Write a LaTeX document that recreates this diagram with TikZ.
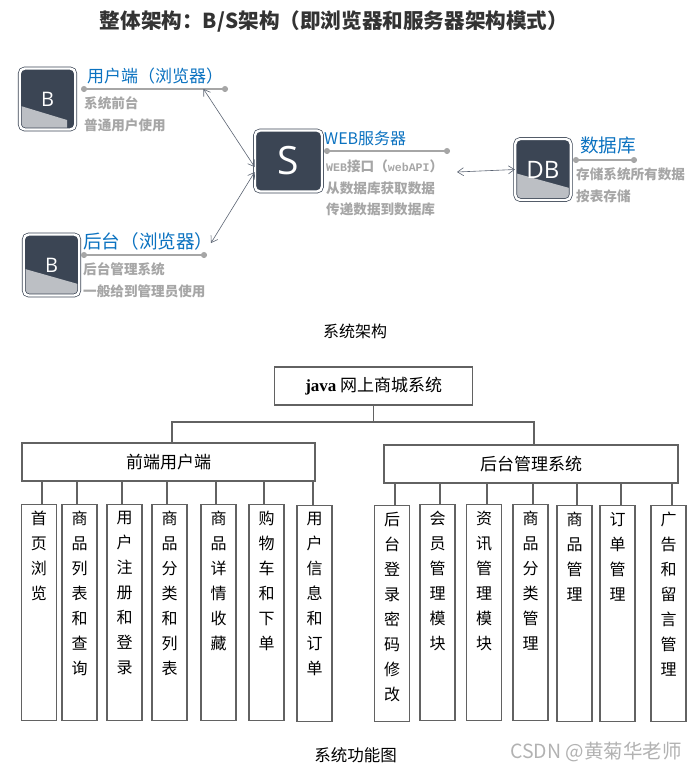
\documentclass[tikz,border=0pt]{standalone}
\usepackage{fontspec}
\usetikzlibrary{arrows.meta}
\setmainfont{Noto Sans CJK SC}
\newfontfamily\iconfont{Open Sans}
\newfontfamily\javafont{Liberation Serif}
\newfontfamily\webfont{Liberation Mono}
\XeTeXlinebreaklocale "zh"
\XeTeXlinebreakskip=0pt plus 1pt
\definecolor{icondark}{HTML}{3B4554}
\definecolor{iconlow}{HTML}{BCBFC4}
\definecolor{headblue}{HTML}{0B72C0}
\definecolor{subgray}{HTML}{A6A6A6}
\definecolor{linkgray}{HTML}{5A6372}
\definecolor{boxline}{HTML}{626262}
\newcommand{\coltext}[1]{\parbox[c][216pt][t]{17pt}{\centering\baselineskip=25pt\vspace*{7pt}#1}}
\newcommand{\iconlowpart}[3]{\fill[iconlow, sharp corners]
    ([xshift=-30pt,yshift=-#1pt]path picture bounding box.center) --
    ([xshift=#2pt,yshift=-#3pt]path picture bounding box.center) --
    ([xshift=#2pt,yshift=-34pt]path picture bounding box.center) --
    ([xshift=-30pt,yshift=-34pt]path picture bounding box.center) -- cycle;}
\tikzset{
    icon/.style={draw=icondark, double=white, double distance=2.4pt, line width=.7pt, fill=icondark,
        rounded corners=5pt, text=white, inner sep=0pt, minimum width=55.5pt, minimum height=61pt},
    head/.style={anchor=west, inner sep=0pt, text=headblue},
    sub/.style={anchor=west, inner sep=0pt, text=subgray, font=\fontsize{13.6pt}{16pt}\bfseries},
    headrule/.style={draw=subgray, line width=1.5pt, {Circle[length=6pt]}-{Circle[length=6pt]}},
    link/.style={draw=linkgray, line width=.6pt, {Straight Barb[length=6pt,width=8pt]}-{Straight Barb[length=6pt,width=8pt]}},
    title/.style={inner sep=0pt, text=black, font=\fontsize{16pt}{18pt}\selectfont},
    topbox/.style={draw=boxline, line width=1.1pt, inner sep=0pt, font=\fontsize{17pt}{20pt}\selectfont},
    colbox/.style={draw=boxline, line width=1.1pt, anchor=north, inner xsep=9pt, inner ysep=0pt,
        font=\fontsize{16pt}{25pt}\selectfont},
    conn/.style={draw=boxline, line width=1.2pt}
}
\begin{document}
\begin{tikzpicture}[x=1pt, y=-1pt]
    \useasboundingbox (0,0) rectangle (697,772);

    % upper picture
    \node[inner sep=0pt, text=black!80, font=\fontsize{20.6pt}{22pt}\bfseries] (main) at (334,21) {整体架构：B/S架构（即浏览器和服务器架构模式）};

    \node[icon, path picture={\iconlowpart{6}{19.5}{21}}, font=\iconfont\fontsize{20pt}{22pt}\selectfont] (user) at (47.5,99) {B};
    \node[icon, path picture={\iconlowpart{3}{30}{20}}, font=\iconfont\fontsize{20pt}{22pt}\selectfont] (admin) at (51.5,265) {B};
    \node[icon, minimum width=67pt, font=\iconfont\fontsize{39pt}{42pt}\selectfont] (server) at (288.5,161) {\raisebox{-3pt}{S}};
    \node[icon, path picture={\iconlowpart{3}{30}{19.5}}, font=\iconfont\fontsize{24pt}{26pt}\selectfont] (db) at (543,169.5) {DB};

    \node[head, font=\fontsize{17pt}{18pt}\selectfont] (userhead) at (87,76) {用户端（浏览器）};
    \coordinate (userl) at (81,89);
    \coordinate (userr) at (228,89);
    \draw[headrule] (userl) -- (userr);
    \node[sub] (usera) at (84,103) {系统前台};
    \node[sub] (userb) at (84,125) {普通用户使用};

    \node[head, font=\fontsize{18.6pt}{20pt}\selectfont] (adminhead) at (83,241) {后台（浏览器）};
    \coordinate (adminl) at (81,255);
    \coordinate (adminr) at (207,255);
    \draw[headrule] (adminl) -- (adminr);
    \node[sub] (admina) at (83,269) {后台管理系统};
    \node[sub] (adminb) at (83,291) {一般给到管理员使用};

    \node[head, font=\fontsize{16pt}{18pt}\selectfont] (serverhead) at (324,138) {WEB服务器};
    \coordinate (serverl) at (324,151);
    \coordinate (serverr) at (450,151);
    \draw[headrule] (serverl) -- (serverr);
    \node[sub] (servera) at (326,166) {{\webfont\fontsize{11.6pt}{16pt}\bfseries WEB}接口（{\webfont\fontsize{11.6pt}{16pt}\bfseries webAPI}）};
    \node[sub] (serverb) at (326,188) {从数据库获取数据};
    \node[sub] (serverc) at (326,209) {传递数据到数据库};

    \node[head, font=\fontsize{18.6pt}{20pt}\selectfont] (dbhead) at (580,145) {数据库};
    \coordinate (dbl) at (573,160);
    \coordinate (dbr) at (637,160);
    \draw[headrule] (dbl) -- (dbr);
    \node[sub] (dba) at (576,174) {存储系统所有数据};
    \node[sub] (dbb) at (576,196) {按表存储};

    \coordinate (userend) at (203.5,89);
    \coordinate (adminend) at (211,243);
    \coordinate (dbend) at (457,172);
    \draw[link] (userend) -- ([yshift=-6pt]server.west);
    \draw[link] (adminend) -- ([yshift=-11pt]server.west);
    \draw[link] (dbend) -- (db.west);

    \node[title] (cap1) at (355,331) {系统架构};

    % lower picture
    \node[topbox, minimum width=198pt, minimum height=38pt] (root) at (373.75,386) {{\javafont\bfseries java} 网上商城系统};
    \node[topbox, minimum width=293pt, minimum height=38pt] (front) at (168.5,462) {前端用户端};
    \node[topbox, minimum width=294pt, minimum height=38pt] (back) at (531,464) {后台管理系统};

    \node[colbox] (f1) at (39,503.5) {\coltext{首页浏览}};
    \node[colbox] (f2) at (79.5,503.5) {\coltext{商品列表和查询}};
    \node[colbox] (f3) at (124.5,503.5) {\coltext{用户注册和登录}};
    \node[colbox] (f4) at (169.5,503.5) {\coltext{商品分类和列表}};
    \node[colbox] (f5) at (218.5,503.5) {\coltext{商品详情收藏}};
    \node[colbox] (f6) at (266.5,503.5) {\coltext{购物车和下单}};
    \node[colbox] (f7) at (314.5,504.5) {\coltext{用户信息和订单}};

    \node[colbox] (b1) at (392,504.5) {\coltext{后台登录密码修改}};
    \node[colbox] (b2) at (437.5,503.5) {\coltext{会员管理模块}};
    \node[colbox] (b3) at (484,503.5) {\coltext{资讯管理模块}};
    \node[colbox] (b4) at (530.5,503.5) {\coltext{商品分类管理}};
    \node[colbox] (b5) at (574.5,504.5) {\coltext{商品管理}};
    \node[colbox] (b6) at (617.5,504.5) {\coltext{订单管理}};
    \node[colbox] (b7) at (668.5,504.5) {\coltext{广告和留言管理}};

    \coordinate (bus) at (374,422);
    \draw[conn] (root.south) -- (root.south |- bus);
    \draw[conn] ([xshift=3.5pt]front.north) |- (bus) -| ([xshift=3pt]back.north);

    \draw[conn] ([xshift=3pt]f1.north) -- ([xshift=3pt]f1.north |- front.south);
    \draw[conn] ([xshift=-2.5pt]f2.north) -- ([xshift=-2.5pt]f2.north |- front.south);
    \draw[conn] ([xshift=-2.5pt]f3.north) -- ([xshift=-2.5pt]f3.north |- front.south);
    \draw[conn] ([xshift=-2.5pt]f4.north) -- ([xshift=-2.5pt]f4.north |- front.south);
    \draw[conn] ([xshift=-2.5pt]f5.north) -- ([xshift=-2.5pt]f5.north |- front.south);
    \draw[conn] ([xshift=-2.5pt]f6.north) -- ([xshift=-2.5pt]f6.north |- front.south);
    \draw[conn] ([xshift=-1.5pt]f7.north) -- ([xshift=-1.5pt]f7.north |- front.south);

    \draw[conn] ([xshift=3pt]b1.north) -- ([xshift=3pt]b1.north |- back.south);
    \draw[conn] ([xshift=2.5pt]b2.north) -- ([xshift=2.5pt]b2.north |- back.south);
    \draw[conn] ([xshift=3pt]b3.north) -- ([xshift=3pt]b3.north |- back.south);
    \draw[conn] ([xshift=2.5pt]b4.north) -- ([xshift=2.5pt]b4.north |- back.south);
    \draw[conn] ([xshift=2.5pt]b5.north) -- ([xshift=2.5pt]b5.north |- back.south);
    \draw[conn] ([xshift=3.5pt]b6.north) -- ([xshift=3.5pt]b6.north |- back.south);
    \draw[conn] ([xshift=3.5pt]b7.north) -- ([xshift=3.5pt]b7.north |- back.south);

    \node[title, font=\fontsize{16.5pt}{18pt}\selectfont] (cap2) at (355.5,755) {系统功能图};
    \node[inner sep=0pt, text=black!30, font=\fontsize{19.5pt}{22pt}\selectfont] (mark) at (596,752) {CSDN @黄菊华老师};
\end{tikzpicture}
\end{document}
